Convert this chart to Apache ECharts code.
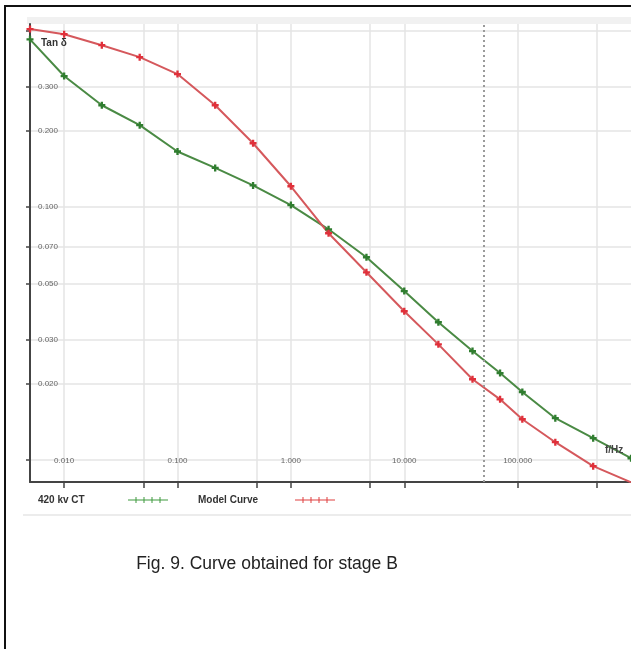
<!DOCTYPE html>
<html>
<head>
<meta charset="utf-8">
<script src="https://cdn.jsdelivr.net/npm/echarts@6/dist/echarts.min.js"></script>
<style>
  html, body { margin: 0; padding: 0; background: #fff; }
  #chart { width: 631px; height: 649px; }
</style>
</head>
<body>
<div id="chart"></div>
<script>
// frequencies (Hz) of the measured points
const freqs = [0.005, 0.01, 0.0215, 0.0464, 0.1, 0.215, 0.464, 1, 2.15, 4.64, 10, 20, 40, 70, 110, 215, 464, 1000];
// 420 kv CT (green)
const ctValues = [0.461, 0.330, 0.253, 0.211, 0.166, 0.143, 0.122, 0.102, 0.0818, 0.0634, 0.0466, 0.0351, 0.0270, 0.0221, 0.0186, 0.01466, 0.01222, 0.01018];
// Model Curve (red)
const modelValues = [0.506, 0.483, 0.437, 0.392, 0.336, 0.253, 0.179, 0.121, 0.0789, 0.0553, 0.0388, 0.0287, 0.0209, 0.0174, 0.01452, 0.01178, 0.00947, 0.00818];

const xGrid = [0.01, 0.05, 0.1, 0.5, 1, 5, 10, 100, 500];
const xLabels = [0.01, 0.1, 1, 10, 100];
const yGrid = [0.5, 0.3, 0.2, 0.1, 0.07, 0.05, 0.03, 0.02, 0.01];
const yLabels = [0.3, 0.2, 0.1, 0.07, 0.05, 0.03, 0.02];
const mainsFreq = 50;

const font = 'Liberation Sans, Arial, sans-serif';
const plus = 'path://M2,0H4V2H6V4H4V6H2V4H0V2H2Z';
const legendIcon = 'path://M0,3H40V4H0Z M7.5,0.5H8.5V6.5H7.5Z M15.5,0.5H16.5V6.5H15.5Z M23.5,0.5H24.5V6.5H23.5Z M31.5,0.5H32.5V6.5H31.5Z';

const chart = echarts.init(document.getElementById('chart'));

chart.setOption({
  animation: false,
  textStyle: { fontFamily: font },
  title: [
    { text: 'Tan δ', left: 36, top: 33, textStyle: { fontSize: 10, fontWeight: 'bold', color: '#333', fontFamily: font } },
    { text: 'f/Hz', left: 600, top: 440, textStyle: { fontSize: 10, fontWeight: 'bold', color: '#444', fontFamily: font } },
    { text: 'Fig. 9. Curve obtained for stage B', left: 262, textAlign: 'center', top: 550,
      textStyle: { fontSize: 17.5, fontWeight: 'normal', color: '#222', fontFamily: font } }
  ],
  graphic: [
    { type: 'polyline', shape: { points: [[5, 649], [5, 6], [631, 6]] }, style: { stroke: '#111', lineWidth: 2, fill: null } },
    { type: 'rect', shape: { x: 27, y: 17, width: 604, height: 7 }, style: { fill: '#f1f1f1' }, z: -1 },
    { type: 'line', shape: { x1: 23, y1: 515, x2: 631, y2: 515 }, style: { stroke: '#ececec', lineWidth: 2 } }
  ],
  legend: {
    left: 33,
    top: 490,
    align: 'right',
    itemWidth: 40,
    itemHeight: 7,
    itemGap: 30,
    data: [
      { name: '420 kv CT', icon: legendIcon, itemStyle: { color: '#3f9a3f' } },
      { name: 'Model Curve', icon: legendIcon, itemStyle: { color: '#e04040' } }
    ],
    formatter: function (name) {
      return name === '420 kv CT' ? '{a|' + name + '}' : '{b|' + name + '}';
    },
    textStyle: {
      fontSize: 10,
      color: '#333',
      fontWeight: 'bold',
      rich: {
        a: { width: 85, align: 'left', fontSize: 10, color: '#333', fontWeight: 'bold' },
        b: { width: 92, align: 'left', fontSize: 10, color: '#333', fontWeight: 'bold' }
      }
    }
  },
  grid: { left: 30, right: 0, top: 24, bottom: 167, containLabel: false },
  xAxis: {
    type: 'log',
    logBase: 10,
    min: 0.005,
    max: 1000,
    axisLine: { lineStyle: { color: '#444', width: 2 } },
    axisTick: { customValues: xGrid, length: 6, lineStyle: { color: '#444', width: 1.5 } },
    axisLabel: {
      customValues: xLabels,
      inside: true,
      margin: 17,
      fontSize: 8,
      color: '#666',
      formatter: v => v.toFixed(3)
    },
    splitLine: { show: true, lineStyle: { color: '#e4e4e4', width: 1.5 } }
  },
  yAxis: {
    type: 'log',
    logBase: 10,
    min: 0.0082,
    max: 0.53,
    axisLine: { lineStyle: { color: '#444', width: 2 } },
    axisTick: { customValues: yGrid, length: 4, lineStyle: { color: '#444', width: 1.5 } },
    axisLabel: {
      customValues: yLabels,
      inside: true,
      margin: 8,
      fontSize: 8,
      color: '#666',
      formatter: v => v.toFixed(3)
    },
    splitLine: { show: true, lineStyle: { color: '#e4e4e4', width: 1.5 } }
  },
  series: [
    {
      name: '420 kv CT',
      type: 'line',
      data: freqs.map((f, i) => [f, ctValues[i]]),
      symbol: plus,
      symbolSize: 7,
      lineStyle: { color: '#4a8a44', width: 2 },
      itemStyle: { color: '#2f7d2f' },
      z: 3,
      markLine: {
        silent: true,
        symbol: 'none',
        label: { show: false },
        lineStyle: { color: '#9a9a9a', width: 2, type: [2, 3] },
        data: [{ xAxis: mainsFreq }]
      }
    },
    {
      name: 'Model Curve',
      type: 'line',
      data: freqs.map((f, i) => [f, modelValues[i]]),
      symbol: plus,
      symbolSize: 7,
      lineStyle: { color: '#d5585c', width: 2 },
      itemStyle: { color: '#e0303a' },
      z: 3
    }
  ]
});
</script>
</body>
</html>
